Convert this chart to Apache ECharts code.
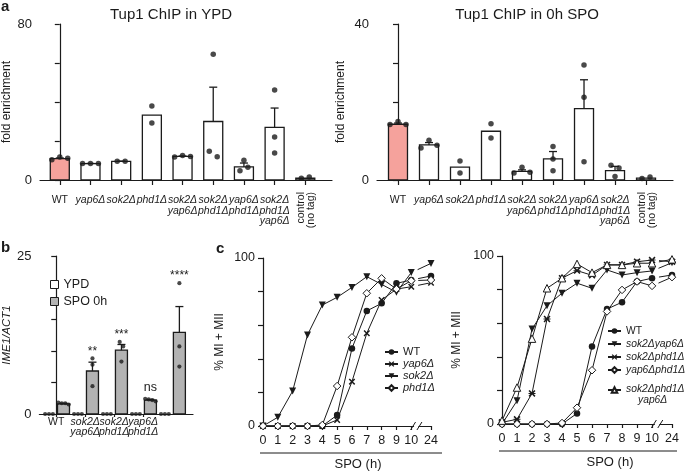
<!DOCTYPE html>
<html><head><meta charset="utf-8">
<script src="https://cdn.jsdelivr.net/npm/echarts@6/dist/echarts.min.js"></script>
<style>html,body{margin:0;padding:0;background:#fff}#c{width:685px;height:471px}</style>
</head><body><div id="c"></div>
<script>
// ---------------- DATA ----------------
// Panel a
const aLabels = ['WT','yap6Δ','sok2Δ','phd1Δ','sok2Δ\nyap6Δ','sok2Δ\nphd1Δ','yap6Δ\nphd1Δ','sok2Δ\nphd1Δ\nyap6Δ','control\n(no tag)'];
const aYpdMean = [11.0, 8.4, 9.6, 33.3, 12.1, 30.0, 6.7, 27.0, 0.9];
const aYpdErr  = [0.3, 0.1, 0.1, 0, 0.2, 17.6, 2.0, 9.9, 0];
const aYpdDots = [[10.4,11.8,11.1],[8.4,8.4,8.4],[9.6,9.6],[38.0,29.2],[11.8,12.6,12.1],[64.5,14.7,11.9],[4.8,10.1,6.5],[46.1,22.0,13.8],[0.9,1.5]];
const aSpoMean = [14.3, 9.0, 3.3, 12.5, 2.2, 5.4, 18.3, 2.4, 0.5];
const aSpoErr  = [0.3, 0.6, 0, 0, 0.4, 1.9, 7.4, 1.1, 0];
const aSpoDots = [[14.2,15.0,14.2],[8.2,10.2,8.9],[4.9,1.8],[14.4,10.8],[1.8,3.3,2.0],[8.6,5.4,2.4],[29.5,21.2,4.7],[3.8,0.9,3.1],[0.4,0.8]];
const aYpdYLabels = [0, 80];
const aSpoYLabels = [0, 40];
const aTitles = ['Tup1 ChIP in YPD', 'Tup1 ChIP in 0h SPO'];
const aYName = 'fold enrichment';

// Panel b
const bLabels = ['WT','sok2Δ\nyap6Δ','sok2Δ\nphd1Δ','yap6Δ\nphd1Δ','sok2Δ\nphd1Δ\nyap6Δ'];
const bYpdMean = [0, 0, 0, 0, 0];
const bYpdDots = [[0,0,0],[0,0,0],[0,0,0],[0,0,0],[0,0,0]];
const bSpoMean = [1.6, 6.8, 10.1, 2.2, 12.9];
const bSpoErr  = [0.1, 1.4, 0.9, 0.1, 4.1];
const bSpoDots = [[1.8,1.7,1.7,1.5],[8.8,7.8,4.4],[11.4,10.7,8.3],[2.4,2.3,2.2,2.0],[20.7,10.7,7.5]];
const bSig = ['', '**', '***', 'ns', '****'];
const bYLabels = [0, 25];
const bYName = 'IME1/ACT1';
const bLegend = ['YPD', 'SPO 0h'];

// Panel c
const cHours = ['0','1','2','3','4','5','6','7','8','9','10','24'];
const cLeftWT   = [0,0,0,0,0,6.5,46.2,68.5,73.0,84.9,86.9,89.3];
const cLeftYap6 = [0,0,0,0,0,3.6,26.4,55.2,75.0,81.5,82.9,85.3];
const cLeftSok2 = [0,5.2,20.8,54.2,72.0,76.6,82.5,88.9,84.3,79.6,91.3,96.8];
const cLeftPhd1 = [0,0,0,0,0.6,23.8,52.8,79.0,87.9,81.5,86.5,86.9];
const cRightWT       = [0,0,0,0,0,6.3,46.2,68.4,72.5,84.8,86.8,88.7];
const cRightSok2Yap6 = [0,13.8,56.5,70.4,77.9,83.8,80.8,91.7,88.7,90.1,91.1,96.0];
const cRightSok2Phd1 = [1.0,2.8,18.2,62.5,86.8,91.3,88.5,94.7,94.7,96.6,97.6,96.6];
const cRightYap6Phd1 = [0,0,0,0,0.6,9.7,32.0,67.0,79.8,84.8,82.2,87.4];
const cRightTriple   = [2.0,21.7,50.8,80.8,86.8,95.3,90.1,94.7,94.7,95.7,95.7,98.0];
const cYLabels = [0, 100];
const cYName = '% MI + MII';
const cXName = 'SPO (h)';

// ---------------- LAYOUT / STYLE ----------------
const FONT = "'Liberation Sans', Arial, Helvetica, sans-serif";
const INK = '#1b1b1b';
const SALMON = '#f5a29c';
const GRAY = '#b3b3b3';
const BREAK_POS = 11.33; // axis position of the 24 h point (after break)
const cPos = cHours.map((h, i) => i <= 10 ? i : BREAK_POS);

const SYM_CROSS = 'path://M0,1.6L1.6,0L5,3.4L8.4,0L10,1.6L6.6,5L10,8.4L8.4,10L5,6.6L1.6,10L0,8.4L3.4,5Z';
const SYM_STAR = SYM_CROSS + 'M0,4.35L10,4.35L10,5.65L0,5.65Z';
const SYM_TRIDOWN = 'path://M0,0L10,0L5,9Z';

function swarm(values, pxPerUnit, diam, step) {
  const idx = values.map((v, i) => i).sort((a, b) => values[a] - values[b]);
  const clusters = []; let cur = [idx[0]];
  for (let k = 1; k < idx.length; k++) {
    if ((values[idx[k]] - values[idx[k-1]]) * pxPerUnit < diam) cur.push(idx[k]);
    else { clusters.push(cur); cur = [idx[k]]; }
  }
  clusters.push(cur);
  const off = new Array(values.length).fill(0);
  clusters.forEach(c => { const s = c.slice().sort((a, b) => a - b); s.forEach((i, k) => { off[i] = (k - (s.length - 1) / 2) * step; }); });
  return off;
}
function swarmData(groups, pxPerUnit, diam, stepPx, catPx, shift) {
  const out = [];
  groups.forEach((vals, gi) => {
    const off = swarm(vals, pxPerUnit, diam, stepPx);
    vals.forEach((v, k) => out.push([gi + shift + off[k] / catPx, v]));
  });
  return out;
}
function geneLabel(s) {
  return s.split('\n').map(l => l === 'WT' ? '{n|WT}' : '{i|' + l + '}').join('\n');
}
function barRender(widthPx, fillFn) {
  return function (params, api) {
    const x = api.value(0), m = api.value(1), e = api.value(2);
    const p0 = api.coord([x, 0]), p1 = api.coord([x, m]), p2 = api.coord([x, m + e]);
    const ch = [];
    if (m > 0) ch.push({type: 'rect', shape: {x: p0[0] - widthPx / 2, y: p1[1], width: widthPx, height: p0[1] - p1[1]},
      style: {fill: fillFn(params.dataIndex), stroke: INK, lineWidth: 1.3}});
    if (e > 0) {
      ch.push({type: 'line', shape: {x1: p1[0], y1: p1[1], x2: p2[0], y2: p2[1]}, style: {stroke: INK, lineWidth: 1.3}});
      ch.push({type: 'line', shape: {x1: p2[0] - 4, y1: p2[1], x2: p2[0] + 4, y2: p2[1]}, style: {stroke: INK, lineWidth: 1.3}});
    }
    return {type: 'group', children: ch};
  };
}
const richLbl = (fs, lh) => ({
  n: {fontSize: fs, lineHeight: lh, fontFamily: FONT, color: INK},
  i: {fontSize: fs, lineHeight: lh, fontFamily: FONT, color: INK, fontStyle: 'italic'}
});
const axLine = {show: true, lineStyle: {color: INK, width: 1.2}};

function yAx(grid, max, interval, labels, name, gap, italic, fs, nfs) {
  return {type: 'value', gridIndex: grid, min: 0, max: max, interval: interval,
    axisLine: axLine, splitLine: {show: false},
    axisTick: {show: true, length: 5, lineStyle: {color: INK, width: 1.2}},
    axisLabel: {customValues: labels, margin: 8, fontSize: fs, color: INK, fontFamily: FONT},
    name: name, nameLocation: 'middle', nameGap: gap,
    nameTextStyle: {fontSize: nfs, color: INK, fontFamily: FONT, fontStyle: italic ? 'italic' : 'normal'}};
}
function xCatAx(grid, min, max, labels, margin, fs, lh, tickLen) {
  const vals = labels.map((l, i) => i);
  return {type: 'value', gridIndex: grid, min: min, max: max,
    axisLine: axLine, splitLine: {show: false},
    axisTick: {show: true, customValues: vals, length: tickLen, lineStyle: {color: INK, width: 1.2}},
    axisLabel: {customValues: vals, margin: margin, rich: richLbl(fs, lh),
      formatter: v => { const s = labels[Math.round(v)]; return s.indexOf('control') === 0 ? '' : geneLabel(s); }}};
}
function xCAx(grid) {
  return {type: 'value', gridIndex: grid, min: 0, max: BREAK_POS,
    axisLine: axLine, splitLine: {show: false},
    axisTick: {show: true, customValues: cPos, length: 4, lineStyle: {color: INK, width: 1.2}},
    axisLabel: {customValues: cPos, margin: 8, fontSize: 12.5, color: INK, fontFamily: FONT,
      formatter: v => cHours[cPos.findIndex(p => Math.abs(p - v) < 1e-6)]}};
}
function cSeries(name, vals, grid, sym, size, open) {
  const item = open ? {color: '#fff', borderColor: INK, borderWidth: 1} : {color: INK, borderWidth: 0};
  const base = {type: 'line', xAxisIndex: grid, yAxisIndex: grid, symbol: sym, symbolSize: size, clip: false,
    itemStyle: item, lineStyle: {color: INK, width: 1}, z: open ? 4 : 3};
  const main = Object.assign({}, base, {name: name, data: vals.slice(0, 11).map((v, i) => [cPos[i], v])});
  const tail = Object.assign({}, base, {name: name + ' tail',
    data: [{value: [cPos[10], vals[10]], symbol: 'none'}, [cPos[11], vals[11]]],
    lineStyle: {color: INK, width: 1, type: [0, 7, 400]}});
  return [main, tail];
}

const dotA = {type: 'scatter', symbol: 'circle', symbolSize: 5.5, itemStyle: {color: INK}, z: 5};
const dotB = {type: 'scatter', symbol: 'circle', symbolSize: 4.2, itemStyle: {color: INK}, z: 5};

const series = [
  // a left
  {type: 'custom', name: 'aYpd', xAxisIndex: 0, yAxisIndex: 0, renderItem: barRender(19, i => aLabels[i] === 'WT' ? SALMON : '#fff'),
    data: aYpdMean.map((m, i) => [i, m, aYpdErr[i]]), z: 2},
  Object.assign({}, dotA, {name: 'aYpdDots', xAxisIndex: 0, yAxisIndex: 0, data: swarmData(aYpdDots, 156 / 80, 6, 8, 31, 0)}),
  // a right
  {type: 'custom', name: 'aSpo', xAxisIndex: 1, yAxisIndex: 1, renderItem: barRender(19, i => aLabels[i] === 'WT' ? SALMON : '#fff'),
    data: aSpoMean.map((m, i) => [i, m, aSpoErr[i]]), z: 2},
  Object.assign({}, dotA, {name: 'aSpoDots', xAxisIndex: 1, yAxisIndex: 1, data: swarmData(aSpoDots, 156 / 40, 6, 8, 31, 0)}),
  // b
  {type: 'custom', name: bLegend[0], xAxisIndex: 2, yAxisIndex: 2, renderItem: barRender(12, () => '#fff'),
    data: bYpdMean.map((m, i) => [i - 0.25, m, 0]), z: 2},
  {type: 'custom', name: bLegend[1], xAxisIndex: 2, yAxisIndex: 2, renderItem: barRender(12, () => GRAY),
    data: bSpoMean.map((m, i) => [i + 0.25, m, bSpoErr[i]]), z: 2},
  Object.assign({}, dotB, {name: 'bYpdDots', xAxisIndex: 2, yAxisIndex: 2, data: swarmData(bYpdDots, 158 / 25, 4.5, 4, 30, -0.25)}),
  Object.assign({}, dotB, {name: 'bSpoDots', xAxisIndex: 2, yAxisIndex: 2, data: swarmData(bSpoDots, 158 / 25, 4.5, 3.6, 30, 0.25)}),
  {type: 'custom', name: 'bSig', xAxisIndex: 2, yAxisIndex: 2, z: 6,
    data: bSpoMean.map((m, i) => [i + 0.25, Math.max(m + bSpoErr[i], ...bSpoDots[i])]),
    renderItem: (params, api) => {
      const p = api.coord([api.value(0), api.value(1)]);
      const t = bSig[params.dataIndex];
      const star = t.indexOf('*') === 0;
      return {type: 'text', x: p[0], y: p[1] - (star ? 1 : 5),
        style: {text: t, fontSize: star ? 12 : 12.5, fontFamily: FONT, fill: INK, align: 'center', verticalAlign: 'bottom',
          textAlign: 'center', textVerticalAlign: 'bottom'}};
    }},
  // c left
  ...cSeries('WT', cLeftWT, 3, 'circle', 6.5, false),
  ...cSeries('yap6Δ', cLeftYap6, 3, SYM_CROSS, 6.5, false),
  ...cSeries('sok2Δ', cLeftSok2, 3, SYM_TRIDOWN, 7, false),
  ...cSeries('phd1Δ', cLeftPhd1, 3, 'diamond', 7.5, true),
  // c right
  ...cSeries('WT', cRightWT, 4, 'circle', 6.5, false),
  ...cSeries('sok2Δyap6Δ', cRightSok2Yap6, 4, SYM_TRIDOWN, 7, false),
  ...cSeries('sok2Δphd1Δ', cRightSok2Phd1, 4, SYM_STAR, 7, false),
  ...cSeries('yap6Δphd1Δ', cRightYap6Phd1, 4, 'diamond', 7.5, true),
  ...cSeries('sok2Δphd1Δyap6Δ', cRightTriple, 4, 'triangle', 7.5, true),
];

const legFmt = name => {
  if (name === 'WT') return '{n|WT}';
  if (name === 'sok2Δphd1Δyap6Δ') return '{s| }\n{i|sok2Δphd1Δ}\n{u|yap6Δ}';
  return '{i|' + name + '}';
};
const legRichR = Object.assign(richLbl(10.3, 12), {
  s: {fontSize: 2, lineHeight: 9, fontFamily: FONT},
  u: {fontSize: 10.3, lineHeight: 10, fontFamily: FONT, color: INK, fontStyle: 'italic', padding: [0, 0, 0, 12]}
});

const option = {
  animation: false,
  backgroundColor: '#fff',
  textStyle: {fontFamily: FONT},
  grid: [
    {left: 37, top: 24, width: 295, height: 156},
    {left: 377, top: 24, width: 296, height: 156},
    {left: 34, top: 256, width: 159, height: 158},
    {left: 263, top: 258, width: 168, height: 168},
    {left: 502, top: 256, width: 170, height: 168}
  ],
  xAxis: [
    xCatAx(0, -0.645, 8.87, aLabels, 15, 10.5, 10.5, 5),
    xCatAx(1, -0.677, 8.87, aLabels, 15, 10.5, 10.5, 5),
    xCatAx(2, -0.583, 4.72, bLabels, 3.5, 10.5, 10, 3),
    xCAx(3), xCAx(4)
  ],
  yAxis: [
    yAx(0, 80, 20, aYpdYLabels, aYName, 27, false, 13, 12),
    yAx(1, 40, 10, aSpoYLabels, aYName, 30, false, 13, 12),
    yAx(2, 25, 5, bYLabels, bYName, 24, true, 13, 11.5),
    yAx(3, 100, 20, cYLabels, cYName, 37, false, 12.5, 12),
    yAx(4, 100, 20, cYLabels, cYName, 39, false, 12.5, 12)
  ],
  legend: [
    {left: 50, top: 278, orient: 'vertical', padding: 0, itemWidth: 8, itemHeight: 8, itemGap: 4, selectedMode: false,
      data: [{name: bLegend[0], icon: 'rect', itemStyle: {color: '#fff', borderColor: INK, borderWidth: 1}},
             {name: bLegend[1], icon: 'rect', itemStyle: {color: GRAY, borderColor: INK, borderWidth: 1}}],
      textStyle: {fontSize: 12.5, fontFamily: FONT, color: INK}},
    {left: 384, top: 346.5, orient: 'vertical', padding: 0, itemWidth: 13, itemHeight: 7, itemGap: 1, selectedMode: false,
      data: ['WT', 'yap6Δ', 'sok2Δ', 'phd1Δ'], formatter: legFmt,
      textStyle: {fontSize: 11, color: INK, rich: richLbl(11, 11)}},
    {left: 607, top: 326, orient: 'vertical', padding: 0, itemWidth: 13, itemHeight: 7, itemGap: 3, selectedMode: false,
      data: ['WT', 'sok2Δyap6Δ', 'sok2Δphd1Δ', 'yap6Δphd1Δ', 'sok2Δphd1Δyap6Δ'], formatter: legFmt,
      textStyle: {fontSize: 10.3, color: INK, rich: legRichR}}
  ],
  series: series
};

const chart = echarts.init(document.getElementById('c'), null, {renderer: 'canvas'});
chart.setOption(option);

// --------- decorations computed from the axes ---------
function txt(text, x, y, opt) {
  return Object.assign({type: 'text', x: x, y: y, z: 100,
    style: Object.assign({text: text, fontSize: 12, fontFamily: FONT, fill: INK,
      align: 'center', verticalAlign: 'middle', textAlign: 'center', textVerticalAlign: 'middle'}, opt || {})});
}
const g = [];
g.push(txt('a', 1, 7, {fontSize: 15, fontWeight: 'bold', align: 'left', textAlign: 'left'}));
g.push(txt('b', 1, 248, {fontSize: 15, fontWeight: 'bold', align: 'left', textAlign: 'left'}));
g.push(txt('c', 216, 249, {fontSize: 15, fontWeight: 'bold', align: 'left', textAlign: 'left'}));
g.push(txt(aTitles[0], 171, 15, {fontSize: 15}));
g.push(txt(aTitles[1], 527, 15, {fontSize: 15}));

// rotated "control (no tag)" labels
[0, 1].forEach(gi => {
  const ci = aLabels.findIndex(s => s.indexOf('control') === 0);
  const p = chart.convertToPixel({gridIndex: gi}, [ci, 0]);
  g.push({type: 'text', x: p[0] + 1, y: p[1] + 12, rotation: Math.PI / 2, z: 100,
    style: {text: aLabels[ci], fontSize: 10.5, lineHeight: 10, fontFamily: FONT, fill: INK,
      align: 'right', verticalAlign: 'middle', textAlign: 'right', textVerticalAlign: 'middle'}});
});

// axis breaks, underline and axis title for panel c
[3, 4].forEach(gi => {
  const a = chart.convertToPixel({gridIndex: gi}, [10.12, 0]);
  const b = chart.convertToPixel({gridIndex: gi}, [10.55, 0]);
  const o = chart.convertToPixel({gridIndex: gi}, [0, 0]);
  const e = chart.convertToPixel({gridIndex: gi}, [BREAK_POS, 0]);
  g.push({type: 'rect', z: 99, shape: {x: a[0] + 1, y: a[1] - 2, width: b[0] - a[0] - 2, height: 4}, style: {fill: '#fff'}});
  [a, b].forEach(p => g.push({type: 'line', z: 100, shape: {x1: p[0] - 2.5, y1: p[1] + 4, x2: p[0] + 2.5, y2: p[1] - 4},
    style: {stroke: INK, lineWidth: 1}}));
  g.push({type: 'line', z: 100, shape: {x1: o[0] - 3, y1: o[1] + 27, x2: e[0] + (gi === 3 ? 11 : 5), y2: o[1] + 27},
    style: {stroke: INK, lineWidth: 1}});
  g.push(txt(cXName, (gi === 3 ? 358 : 610), o[1] + 38, {fontSize: 13}));
});
chart.setOption({graphic: g});
</script></body></html>
